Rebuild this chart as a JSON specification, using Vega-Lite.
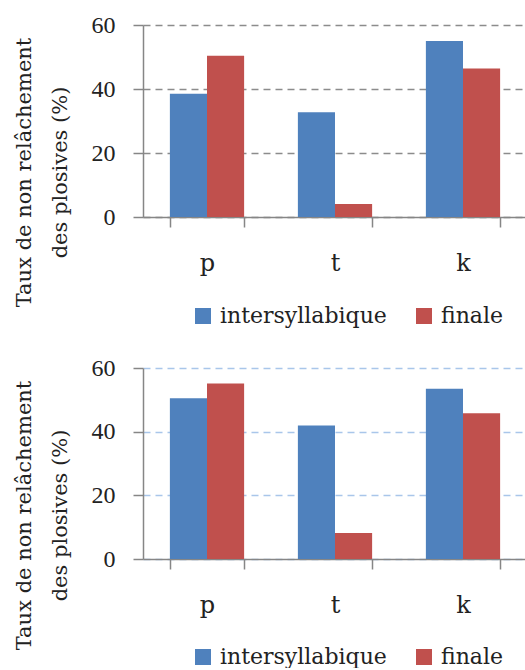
{
  "$schema": "https://vega.github.io/schema/vega-lite/v6.json",
  "padding": {"left": 13, "top": 13, "right": 0, "bottom": 0},
  "spacing": 29,
  "datasets": {
    "top": [
      {"consonne": "p", "position": "intersyllabique", "taux": 38.5},
      {"consonne": "p", "position": "finale", "taux": 50.4},
      {"consonne": "t", "position": "intersyllabique", "taux": 32.7},
      {"consonne": "t", "position": "finale", "taux": 4.1},
      {"consonne": "k", "position": "intersyllabique", "taux": 55.0},
      {"consonne": "k", "position": "finale", "taux": 46.4}
    ],
    "bottom": [
      {"consonne": "p", "position": "intersyllabique", "taux": 50.5},
      {"consonne": "p", "position": "finale", "taux": 55.1},
      {"consonne": "t", "position": "intersyllabique", "taux": 41.9},
      {"consonne": "t", "position": "finale", "taux": 8.2},
      {"consonne": "k", "position": "intersyllabique", "taux": 53.5},
      {"consonne": "k", "position": "finale", "taux": 45.8}
    ]
  },
  "resolve": {"legend": {"color": "independent"}},
  "vconcat": [
    {
      "width": 384,
      "height": 192,
      "data": {"name": "top"},
      "mark": {"type": "bar"},
      "encoding": {
        "x": {
          "field": "consonne", "type": "nominal", "sort": ["p", "t", "k"],
          "scale": {"paddingInner": 0.42, "paddingOuter": 0.21},
          "axis": {"title": null, "labelAngle": 0, "tickBand": "extent", "labelPadding": 24, "labelFontSize": 24}
        },
        "xOffset": {"field": "position", "type": "nominal", "sort": ["intersyllabique", "finale"]},
        "y": {
          "field": "taux", "type": "quantitative",
          "scale": {"domain": [0, 60], "nice": false},
          "axis": {
            "values": [0, 20, 40, 60],
            "title": ["Taux de non relâchement", "des plosives (%)"],
            "titleX": -130, "titleY": 147, "titleAngle": 270,
            "titleAlign": "center", "titleBaseline": "top", "titleLineHeight": 36,
            "gridColor": "#8c8c8c", "gridDash": [7, 5]
          }
        },
        "color": {
          "field": "position", "type": "nominal", "sort": ["intersyllabique", "finale"],
          "scale": {"domain": ["intersyllabique", "finale"], "range": ["#4F81BD", "#C0504D"]},
          "legend": {"title": null, "orient": "none", "legendX": 49, "legendY": 280, "direction": "horizontal"}
        }
      }
    },
    {
      "width": 384,
      "height": 191,
      "data": {"name": "bottom"},
      "mark": {"type": "bar"},
      "encoding": {
        "x": {
          "field": "consonne", "type": "nominal", "sort": ["p", "t", "k"],
          "scale": {"paddingInner": 0.42, "paddingOuter": 0.21},
          "axis": {"title": null, "labelAngle": 0, "tickBand": "extent", "labelPadding": 24, "labelFontSize": 24}
        },
        "xOffset": {"field": "position", "type": "nominal", "sort": ["intersyllabique", "finale"]},
        "y": {
          "field": "taux", "type": "quantitative",
          "scale": {"domain": [0, 60], "nice": false},
          "axis": {
            "values": [0, 20, 40, 60],
            "title": ["Taux de non relâchement", "des plosives (%)"],
            "titleX": -130, "titleY": 147, "titleAngle": 270,
            "titleAlign": "center", "titleBaseline": "top", "titleLineHeight": 36,
            "gridColor": "#a9c6ea", "gridDash": [7, 5]
          }
        },
        "color": {
          "field": "position", "type": "nominal", "sort": ["intersyllabique", "finale"],
          "scale": {"domain": ["intersyllabique", "finale"], "range": ["#4F81BD", "#C0504D"]},
          "legend": {"title": null, "orient": "none", "legendX": 49, "legendY": 278, "direction": "horizontal"}
        }
      }
    }
  ],
  "config": {
    "view": {"stroke": null},
    "font": "DejaVu Serif",
    "axis": {
      "labelFont": "DejaVu Serif", "labelFontSize": 20, "labelColor": "#222222",
      "titleFont": "DejaVu Serif", "titleFontSize": 21, "titleFontWeight": "normal", "titleColor": "#222222",
      "domainColor": "#868686", "domainWidth": 1.5, "tickColor": "#868686", "tickWidth": 1.5, "tickSize": 10,
      "labelPadding": 18, "gridWidth": 1.5
    },
    "axisY": {"labelFont": "Liberation Serif", "labelFontSize": 24},
    "legend": {
      "labelFont": "DejaVu Serif", "labelFontSize": 22, "labelColor": "#222222", "labelLimit": 400,
      "symbolType": "square", "symbolSize": 256, "symbolStrokeWidth": 0, "symbolOpacity": 1,
      "labelOffset": 6, "columnPadding": 26, "padding": 0
    }
  }
}
